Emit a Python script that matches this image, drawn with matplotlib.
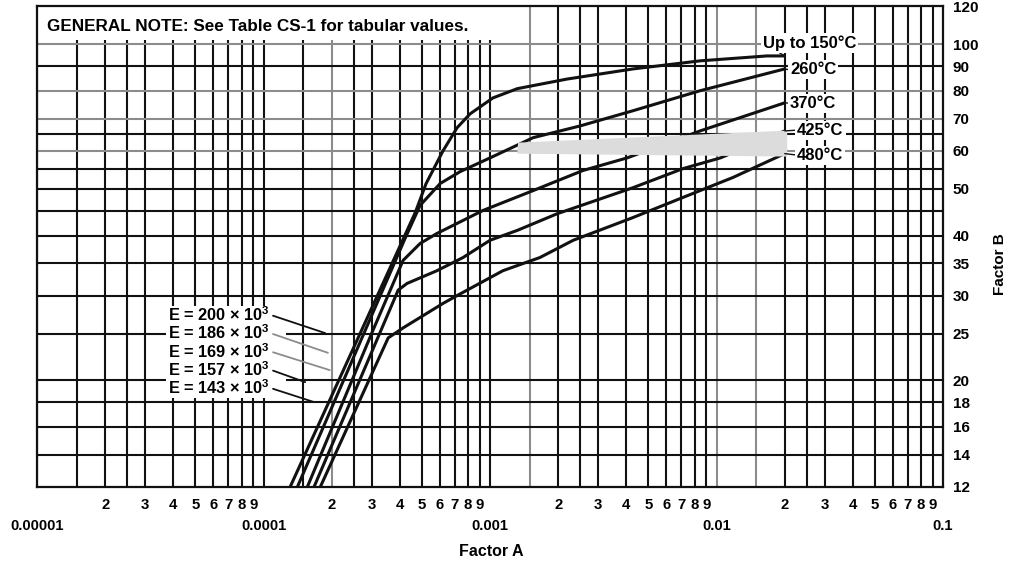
import matplotlib.pyplot as plt
import numpy as np
from matplotlib.patches import Polygon, Rectangle

plt.rcParams['font.family'] = ['Liberation Sans', 'DejaVu Sans']
plt.rcParams['font.weight'] = 'bold'
plt.rcParams['mathtext.fontset'] = 'custom'
plt.rcParams['mathtext.rm'] = 'Liberation Sans:bold'
plt.rcParams['mathtext.it'] = 'Liberation Sans:bold'
plt.rcParams['mathtext.bf'] = 'Liberation Sans:bold'

# curves (Factor A, Factor B)
a_150 = [1.31e-4, 4.67e-4, 5.22e-4, 6.20e-4, 7.15e-4, 8.16e-4, 1.03e-3, 1.32e-3, 2.19e-3, 4.28e-3, 8.46e-3, 1.67e-2, 2.0e-2]
b_150 = [12.0, 44.6, 51.3, 60.0, 67.0, 71.6, 77.3, 80.8, 84.6, 88.8, 92.3, 94.5, 94.5]

a_260 = [1.41e-4, 4.21e-4, 4.91e-4, 6.02e-4, 7.37e-4, 1.0e-3, 1.55e-3, 2.50e-3, 4.28e-3, 8.46e-3, 2.0e-2]
b_260 = [12.0, 39.4, 46.2, 51.3, 54.3, 58.0, 63.9, 67.6, 72.7, 80.0, 88.8]

a_370 = [1.56e-4, 2.49e-4, 3.04e-4, 4.13e-4, 4.91e-4, 5.83e-4, 9.31e-4, 1.55e-3, 2.57e-3, 4.03e-3, 8.46e-3, 2.0e-2]
b_370 = [12.0, 20.3, 25.4, 35.5, 38.5, 40.4, 45.1, 49.6, 54.6, 58.0, 66.0, 75.5]

a_425 = [1.67e-4, 3.93e-4, 4.30e-4, 5.83e-4, 7.60e-4, 1.0e-3, 1.32e-3, 1.98e-3, 4.28e-3, 7.11e-3, 1.04e-2, 2.0e-2]
b_425 = [12.0, 30.8, 31.8, 33.8, 36.0, 39.1, 41.0, 44.4, 50.3, 55.1, 58.0, 66.0]

a_480 = [1.78e-4, 3.55e-4, 4.13e-4, 6.20e-4, 7.15e-4, 1.14e-3, 1.66e-3, 2.33e-3, 4.28e-3, 7.11e-3, 1.18e-2, 2.0e-2]
b_480 = [12.0, 24.5, 25.7, 28.9, 30.0, 33.8, 36.0, 39.1, 43.6, 48.0, 52.8, 59.2]

curve_labels = ['Up to 150°C', '260°C', '370°C', '425°C', '480°C']
e_values = [200, 186, 169, 157, 143]

# axis ticks / grid
decades = [1e-5, 1e-4, 1e-3, 1e-2]
decade_labels = ['0.00001', '0.0001', '0.001', '0.01', '0.1']
grid_mult = [1, 1.5, 2, 2.5, 3, 4, 5, 6, 7, 8, 9]
digit_mult = [2, 3, 4, 5, 6, 7, 8, 9]
y_grid = [14, 16, 18, 20, 25, 30, 35, 40, 45, 50, 55, 60, 65, 70, 80, 90, 100]
y_ticks = [12, 14, 16, 18, 20, 25, 30, 35, 40, 50, 60, 70, 80, 90, 100, 120]
gray_x = [2e-4, 1.5e-3, 1e-2, 1.5e-2]
gray_y = [100, 80, 70, 60]

fig = plt.figure(figsize=(10.12, 5.63), dpi=100)
ax = fig.add_axes([0.0366, 0.135, 0.8953, 0.8543])
ax.set_xscale('log')
ax.set_yscale('log')
ax.set_xlim(1e-5, 1e-1)
ax.set_ylim(12, 120)

dark = '#111111'
grey = '#8c8c8c'
for d in decades:
    for m in grid_mult:
        x = d * m
        c = grey if np.any(np.isclose(x, gray_x)) else dark
        ax.axvline(x, color=c, lw=1.5, zorder=1)
for y in y_grid:
    c = grey if y in gray_y else dark
    ax.axhline(y, color=c, lw=1.5, zorder=1)

curves = [(a_150, b_150), (a_260, b_260), (a_370, b_370), (a_425, b_425), (a_480, b_480)]
for a, b in curves:
    ax.plot(a, b, color=dark, lw=2.2, zorder=3, solid_capstyle='butt')

# grey smudge over the middle of the chart
ax.add_patch(Polygon([[0.531, 0.716], [0.828, 0.741], [0.828, 0.687], [0.530, 0.693]],
                     closed=True, transform=ax.transAxes, fc='#dcdcdc', ec='none', zorder=4))

# general note
ax.add_patch(Rectangle((0, 0.93), 0.517, 0.07, transform=ax.transAxes, fc='white', ec='none', zorder=2))
ax.text(0.011, 0.958, 'GENERAL NOTE: See Table CS-1 for tabular values.', transform=ax.transAxes,
        va='center', ha='left', fontsize=12.3, zorder=5)

# temperature labels
lab_pos = [(0.801, 0.923), (0.831, 0.867), (0.831, 0.798), (0.839, 0.742), (0.839, 0.690)]
for (a, b), lab, pos in zip(curves, curve_labels, lab_pos):
    ax.annotate(lab, xy=(a[-1], b[-1]), xytext=pos, textcoords='axes fraction',
                va='center', ha='left', fontsize=12, zorder=6,
                bbox=dict(fc='white', ec='none', pad=1.5),
                arrowprops=dict(arrowstyle='-', color=dark, lw=1, shrinkA=0, shrinkB=0, relpos=(0, 0.5)))

# modulus labels on a white block
ax.add_patch(Rectangle((0.142, 0.186), 0.133, 0.19, transform=ax.transAxes, fc='white', ec='none', zorder=2))
e_y = [0.358, 0.320, 0.282, 0.244, 0.206]
e_end = [(0.318, 0.320), (0.321, 0.279), (0.323, 0.243), (0.296, 0.218), (0.305, 0.177)]
e_col = [dark, grey, grey, dark, dark]
for ev, y, end, c in zip(e_values, e_y, e_end, e_col):
    lab = 'E = %d × 10$^{3}$' % ev
    ax.annotate(lab, xy=end, xycoords='axes fraction', xytext=(0.145, y), textcoords='axes fraction',
                va='center', ha='left', fontsize=11.8, zorder=6,
                arrowprops=dict(arrowstyle='-', color=c, lw=1.3, shrinkA=0, shrinkB=0, relpos=(1, 0.5)))

# ticks
ax.set_xticks(decades + [1e-1], labels=decade_labels)
minor_pos = [d * m for d in decades for m in digit_mult]
ax.set_xticks(minor_pos, labels=[str(m) for d in decades for m in digit_mult], minor=True)
ax.tick_params(axis='x', which='major', length=0, pad=23, labelsize=10.7)
ax.tick_params(axis='x', which='minor', length=0, pad=8, labelsize=10.7)

ax.yaxis.tick_right()
ax.set_yticks(y_ticks, labels=[str(v) for v in y_ticks])
ax.set_yticks([], minor=True)
ax.tick_params(axis='y', which='both', length=0, pad=7, labelsize=11)

for s in ax.spines.values():
    s.set_linewidth(1.6)
    s.set_color(dark)
    s.set_zorder(7)

fig.text(0.485, 0.02, 'Factor A', ha='center', va='center', fontsize=11.5)
fig.text(0.988, 0.531, 'Factor B', rotation=90, ha='center', va='center', fontsize=11)

fig.savefig('out.png', dpi=100)
